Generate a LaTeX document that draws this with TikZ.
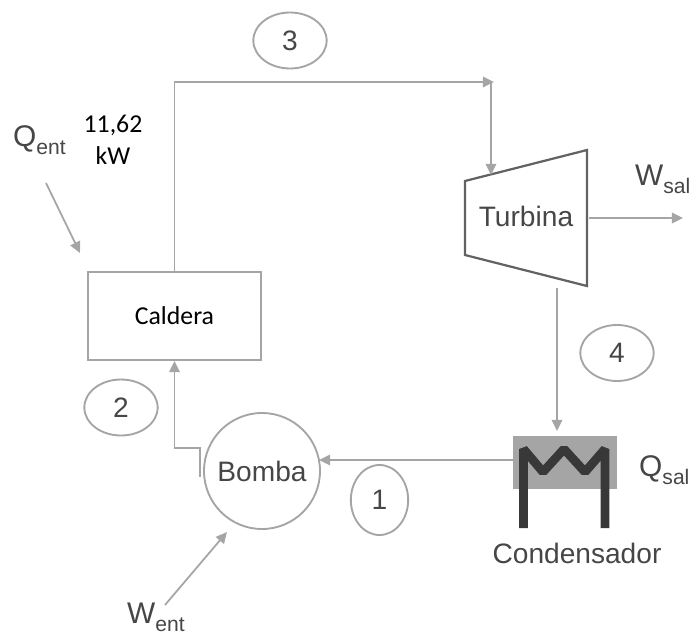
\documentclass[tikz,border=0pt]{standalone}
\usepackage{fontspec}
\setmainfont{Liberation Sans}
\newfontfamily\calibrifont{Carlito}
\definecolor{Micolor1}{RGB}{165,165,165}
\definecolor{Micolor2}{RGB}{70,70,70}
\usetikzlibrary{positioning, arrows.meta, shapes.geometric}
\newcommand{\subtxt}[1]{\raisebox{-7.6pt}{\fontsize{18}{20}\selectfont #1}}

\begin{document}
\begin{tikzpicture}[
  x=0.03cm, y=-0.03cm,
  lbl/.style={font=\fontsize{24}{28}\selectfont, text=Micolor2, inner sep=0pt},
  flx/.style={font=\fontsize{25.5}{28}\selectfont, text=Micolor2, inner sep=0pt, anchor=base west},
  cal/.style={font=\calibrifont\fontsize{22}{27}\selectfont, text=black, align=center, inner sep=0pt},
  num/.style={draw=Micolor1, ellipse, line width=1.6pt, minimum width=2.2cm, minimum height=1.68cm,
              inner sep=0pt, font=\fontsize{24}{26}\selectfont, text=Micolor2},
  arr/.style={-{Triangle[length=9.5pt, width=9pt]}, draw=Micolor1, line width=1.5pt}
]
\useasboundingbox (0,0) rectangle (692,635);

%% ---- equipos ----
\node[draw=Micolor1, line width=1.6pt, minimum width=5.19cm, minimum height=2.64cm, cal] (caldera) at (174.5,316) {Caldera};
\node[draw=Micolor1, circle, line width=1.6pt, minimum size=3.48cm, lbl] (bomba) at (262,471) {Bomba};
\node[draw=Micolor1, fill=Micolor1, minimum width=3.09cm, minimum height=1.56cm, inner sep=0pt] (condensador) at (564.5,462) {};
\node[lbl] (condtxt) at (577,553) {Condensador};

%% ---- turbina ----
\coordinate (tna) at (465,181);
\coordinate (tnb) at (587,150);
\coordinate (tnc) at (587,286);
\coordinate (tnd) at (465,255);
\draw[draw=Micolor2!85!white, line width=1.9pt, line join=miter] (tna) -- (tnb) -- (tnc) -- (tnd) -- cycle;
\node[lbl] (turbina) at (526,216) {Turbina};

%% ---- serpentin ----
\coordinate (ma) at (523.5,528);
\coordinate (mb) at (523.5,449);
\coordinate (mc) at (543,472);
\coordinate (md) at (564,449);
\coordinate (me) at (585,472);
\coordinate (mf) at (605,449);
\coordinate (mg) at (605,528);
\draw[draw=Micolor2!80!black, line width=7.5pt, line join=bevel] (ma) -- (mb) -- (mc) -- (md) -- (me) -- (mf) -- (mg);

%% ---- estados ----
\node[num] (n3) at (290,40.5) {3};
\node[num] (n2) at (121,407.5) {2};
\node[num] (n4) at (617,353) {4};
\node[num, minimum width=1.72cm, minimum height=2.1cm] (n1) at (379.5,500) {1};

%% ---- textos ----
\node[flx] (qent) at (13,146) {Q\subtxt{ent}};
\node[flx] (qsal) at (639,476) {Q\subtxt{sal}};
\node[flx] (wsal) at (635,185) {W\subtxt{sal}};
\node[flx] (went) at (127,623) {W\subtxt{ent}};
\node[cal] (kw) at (113,140) {11,62\\kW};

%% ---- conexiones ----
\coordinate (c3) at (494,82);
\coordinate (c3b) at (491,82);
\coordinate (tnin) at (491,175);
\coordinate (tnout) at (557,288);
\coordinate (condin) at (557,431);
\coordinate (wsalo) at (589,218);
\coordinate (wsalf) at (683,218);
\coordinate (bombain) at (319,460);
\coordinate (bombaout) at (200,477);
\coordinate (qa) at (46,183);
\coordinate (qb) at (80,253);
\coordinate (wa) at (165,605);
\coordinate (wb) at (227,532);

\draw[arr] (caldera.north) |- (c3);
\draw[arr] (c3b) -- (tnin);
\draw[arr] (tnout) -- (condin);
\draw[arr] (wsalo) -- (wsalf);
\draw[arr] (condensador.west |- bombain) -- (bombain);
\draw[arr] (bombaout) -- ++(0,-29) -| (caldera.south);
\draw[arr] (qa) -- (qb);
\draw[arr] (wa) -- (wb);

\end{tikzpicture}
\end{document}
